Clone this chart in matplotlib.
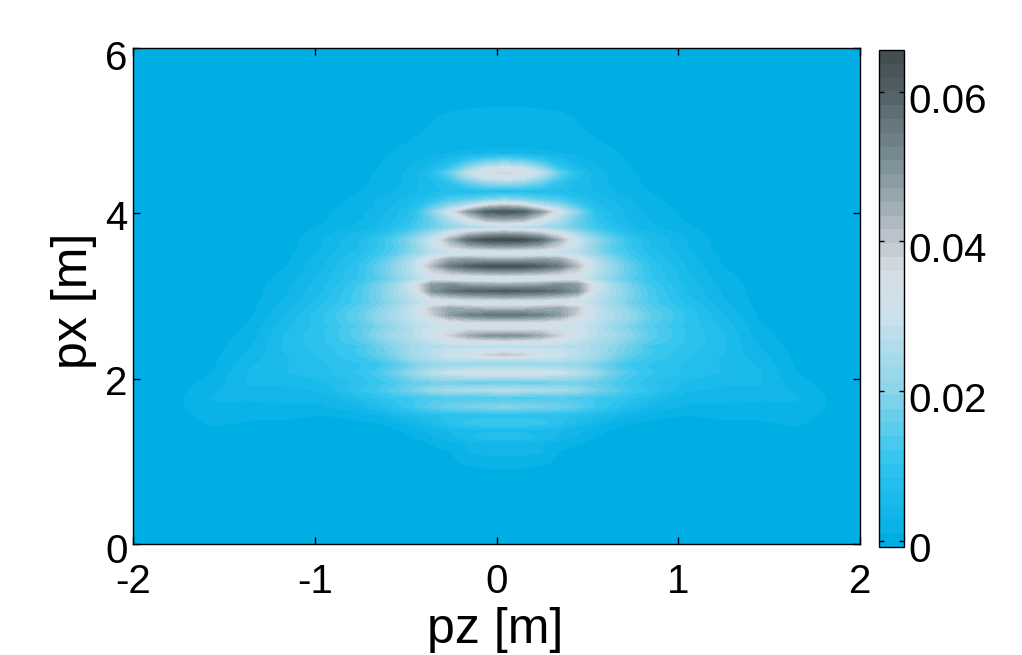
import numpy as np
import matplotlib
matplotlib.use("Agg")
import matplotlib.pyplot as plt
from matplotlib.colors import LinearSegmentedColormap, BoundaryNorm
from matplotlib.transforms import ScaledTranslation

plt.rcParams['font.family'] = ['Liberation Sans', 'DejaVu Sans']
plt.rcParams['axes.unicode_minus'] = False

# distance from the pattern's centre line along pz [m]
dz_cols = [0, .1, .2, .3, .4, .5, .6, .7, .8, 1.0, 1.2, 1.4, 1.6, 1.8, 2.2]
center_pz = 0.045
px_rows = [6.0, 5.6, 5.3, 5.15, 5.0, 4.85, 4.72, 4.6, 4.55, 4.49, 4.43, 4.38, 4.26, 4.16, 4.10, 4.02, 3.94, 3.83,
           3.76, 3.68, 3.60, 3.52, 3.44, 3.36, 3.28, 3.21, 3.14, 3.06, 2.98, 2.92, 2.85, 2.77, 2.70, 2.64,
           2.58, 2.52, 2.45, 2.39, 2.34, 2.29, 2.23, 2.17, 2.07, 1.95, 1.86, 1.77, 1.66, 1.56, 1.46, 1.38,
           1.29, 1.2, 1.11, 1.04, .98, .9, .77, .6, 0.0]
# density in units of 1e-3, one row per px_rows entry
density_milli = [
 [0,0,0,0,0,0,0,0,0,0,0,0,0,0,0],
 [0,0,0,0,0,0,0,0,0,0,0,0,0,0,0],
 [.9,.8,.6,.3,0,0,0,0,0,0,0,0,0,0,0],
 [2.6,2.5,2.4,1.8,.9,.5,.2,0,0,0,0,0,0,0,0],
 [2.2,2.2,2,1.7,1.2,.8,.4,.1,0,0,0,0,0,0,0],
 [.9,1,1.3,1.6,1.7,1.2,.8,.3,0,0,0,0,0,0,0],
 [5,4.6,3.8,3,2.4,2,1.2,.6,.1,0,0,0,0,0,0],
 [23,21,15,8,4.5,2.8,1.7,.9,.3,0,0,0,0,0,0],
 [31,29,21,11,5.5,3.2,1.9,1,.4,0,0,0,0,0,0],
 [37,35,28,16,8,4,2.2,1.2,.5,0,0,0,0,0,0],
 [32,30,23,13,7,4,2.3,1.3,.6,0,0,0,0,0,0],
 [24,22,17,10,6,4,2.4,1.4,.6,0,0,0,0,0,0],
 [7,7,7,7,6,4.5,3,1.8,1,0,0,0,0,0,0],
 [22,20,16,14,9,6,4.5,3,1.6,.1,0,0,0,0,0],
 [40,36,26,20,13,7,5,3,1.8,.2,0,0,0,0,0],
 [62,60,48,32,20,9,6,3.5,2.4,.6,0,0,0,0,0],
 [48,46,36,26,17,10,6.5,4,2.6,.7,0,0,0,0,0],
 [26,25,24,21,16,12,8,5,3.4,1.3,0,0,0,0,0],
 [46,44,40,32,23,16,11,7,5,2,0,0,0,0,0],
 [65,64,58,44,30,21,15,10,6.5,3,0,0,0,0,0],
 [48,47,44,38,29,20,14,10,6.5,3,.1,0,0,0,0],
 [28,28,28,28,27,21,15,11,7.5,3.5,.3,0,0,0,0],
 [46,46,48,46,36,26,19,13,9,4,.7,0,0,0,0],
 [63,63,60,54,42,28,21,15,10,4.5,1,0,0,0,0],
 [46,45,43,40,36,27,21,15,10.5,5,1.4,0,0,0,0],
 [28,28,29,30,31,25,19,14,10.5,5.5,1.8,0,0,0,0],
 [44,45,46,50,48,32,23,17,12,6,2.2,.1,0,0,0],
 [61,60,59,56,50,30,24,18,13,6.5,2.6,.1,0,0,0],
 [44,43,42,40,37,28,23,18,13.5,7,3,.1,0,0,0],
 [29,29,30,30,31,27,22,17,13,8,3.5,.2,0,0,0],
 [42,42,44,46,40,29,24,19,15,9,4,.4,0,0,0],
 [56,55,53,48,38,29,25,21,16,10,5,.7,0,0,0],
 [40,40,39,37,33,28,24,20,15.5,10,5.5,1,0,0,0],
 [28,28,29,29,29,27,22,18,14,9.5,6,1.2,0,0,0],
 [38,38,38,36,31,27,23,19,15,10,6.5,1.5,0,0,0],
 [50,49,45,38,31,27,24,20,15,10,7,1.8,0,0,0],
 [34,34,33,31,28,25,22,18,14,10,7,2.3,0,0,0],
 [27,27,27,27,26,24,20,16,12,9.5,7,2.8,.1,0,0],
 [32,31,30,29,27,24,20,16,12.5,9,6.8,3.1,.3,0,0],
 [40,38,33,30,27,24,19,15,12,9,6.5,3.5,.4,0,0],
 [27,27,27,27,25,22,17,13,11,8.5,6.3,4,.6,0,0],
 [22,22,22,22,21,18,14,11,10,8,6.5,4.4,.8,0,0],
 [33,33,32,30,27,22,17,13,10.5,8,6.5,5,1.1,0,0],
 [16,16,16,17,17,16,13,11,9,6,5.2,5,1.9,.1,0],
 [27,26,25,24,22,18,15,12,10,5,4.2,4.2,2.6,.3,0],
 [13,13,13,14,13,12,11,9,7,3.5,3.5,3.2,3.1,.6,0],
 [20,19,18,17,15,12,9,6.5,4.5,2.6,2.6,2.3,2.6,.7,0],
 [9,9,9,9,8,6.5,5,3,2,1,1.4,1.4,1.8,.5,0],
 [12,12,11,9,6,4,2,1,.6,.4,.8,.8,1.3,.2,0],
 [6,6,6,5,3.5,2,.8,.3,.1,.1,.2,.3,.8,0,0],
 [8,8,6,4,2.5,1,.3,0,0,0,0,0,.3,0,0],
 [3.5,3.5,3,1.8,1,.3,0,0,0,0,0,0,0,0,0],
 [4.5,4.5,3,1,.5,0,0,0,0,0,0,0,0,0,0],
 [1.8,1.8,1.6,.8,.2,0,0,0,0,0,0,0,0,0,0],
 [2.2,2,1.4,.6,.1,0,0,0,0,0,0,0,0,0,0],
 [.8,.8,.5,.1,0,0,0,0,0,0,0,0,0,0,0],
 [.2,.2,.1,0,0,0,0,0,0,0,0,0,0,0,0],
 [0,0,0,0,0,0,0,0,0,0,0,0,0,0,0],
 [0,0,0,0,0,0,0,0,0,0,0,0,0,0,0],
]
x_ticks = [-2, -1, 0, 1, 2]
y_ticks = [0, 2, 4, 6]
cbar_ticks = [0, 0.02, 0.04, 0.06]
cbar_labels = ['0', '0.02', '0.04', '0.06']

half = np.array(density_milli) * 1e-3
field = np.hstack([half[:, :0:-1], half])
dz = np.array(dz_cols)
pz = np.concatenate([-dz[:0:-1], dz]) + center_pz
px = np.array(px_rows)

vmin, vmax = -0.0008, 0.0656
levels = np.linspace(vmin, vmax, 37)
def frac(v):
    return (v - vmin) / (vmax - vmin)
anchors = [(0, '#00AEE6'), (frac(0.01), '#32C5EE'), (frac(0.02), '#8DD5E9'), (frac(0.03), '#CBE2EC'),
           (frac(0.036), '#D6DDE4'), (frac(0.04), '#C0C8D0'), (frac(0.05), '#81949B'),
           (frac(0.06), '#55646B'), (1, '#434E50')]
cmap = LinearSegmentedColormap.from_list('bluegray', anchors, N=36)
norm = BoundaryNorm(levels, cmap.N)

W, H = 1022, 655
fig = plt.figure(figsize=(W/100, H/100), dpi=100, facecolor='white')
ax = fig.add_axes([133/W, 1-544/H, (860-133)/W, (544-48)/H])
ax.set_facecolor('#00AEE6')
cf = ax.contourf(pz, px, field, levels=levels, cmap=cmap, norm=norm)
ax.set_xlim(-2, 2)
ax.set_ylim(0, 6)
ax.set_xticks(x_ticks)
ax.set_yticks(y_ticks)
ax.tick_params(direction='in', length=5, width=1, top=True, right=True, labelsize=29)
ax.tick_params(axis='x', pad=14)
ax.tick_params(axis='y', pad=4)
ax.set_xlabel('pz [m]', fontsize=36)
ax.xaxis.set_label_coords(0.4985, -0.128)
ax.set_ylabel('px [m]', fontsize=36)
ax.yaxis.set_label_coords(-0.05, 0.49)
for s in ax.spines.values():
    s.set_linewidth(1)
for lab, d in zip(ax.get_yticklabels(), [4, 1, 2, 7]):
    lab.set_transform(lab.get_transform() + ScaledTranslation(0, -d/100, fig.dpi_scale_trans))

cax = fig.add_axes([879/W, 1-546.5/H, (904-879)/W, (546.5-50)/H])
cb = fig.colorbar(cf, cax=cax, ticks=cbar_ticks, spacing='proportional')
cb.ax.set_yticklabels(cbar_labels)
cb.ax.minorticks_off()
cax.tick_params(direction='in', length=3.6, width=1, left=True, right=True, labelsize=29, pad=3)
cb.outline.set_linewidth(1)
for lab in cax.get_yticklabels():
    lab.set_transform(lab.get_transform() + ScaledTranslation(0, -6/100, fig.dpi_scale_trans))

fig.savefig('out.png', dpi=100)
